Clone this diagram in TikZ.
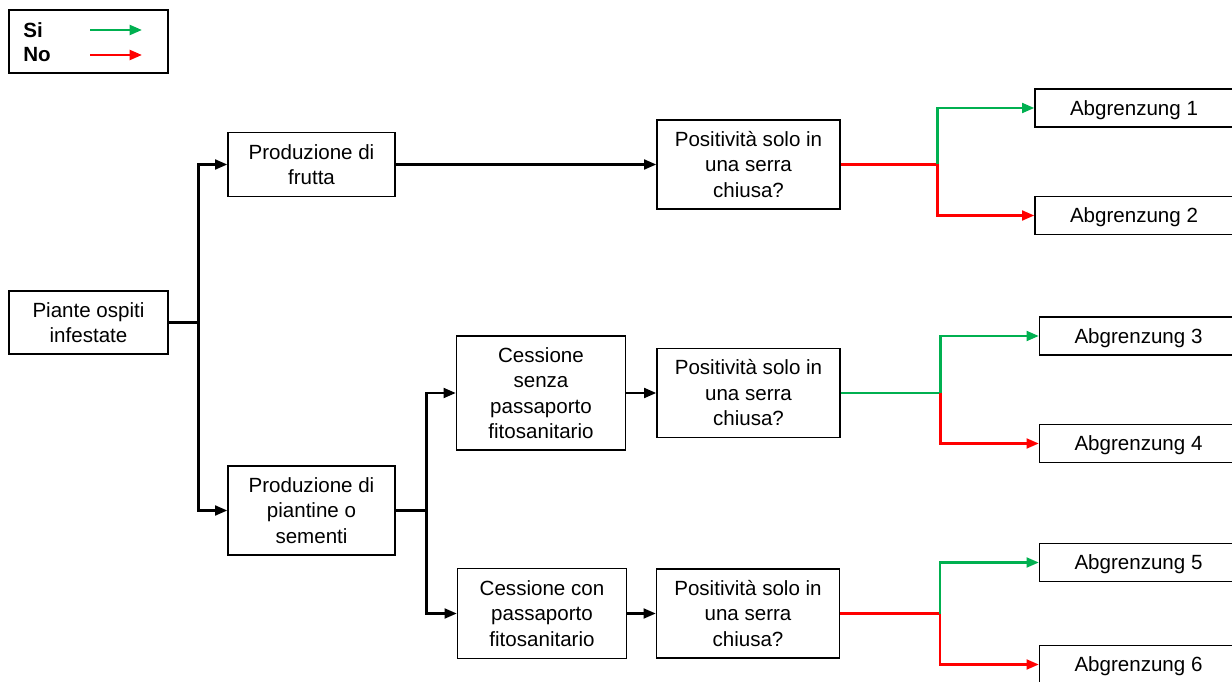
\documentclass[tikz,border=0pt]{standalone}
\usepackage{fontspec}
\setmainfont{Liberation Sans}
\usetikzlibrary{arrows.meta}
\definecolor{sigreen}{RGB}{0,176,80}

\begin{document}
\begin{tikzpicture}[x=0.02cm,y=-0.02cm,
  txt/.style={font=\fontsize{11.7}{14.5}\selectfont},
  leg/.style={font=\bfseries\fontsize{11.7}{14.5}\selectfont,anchor=west,inner sep=0pt},
  box/.style={txt,draw,line width=0.8pt,align=center,inner sep=0pt},
  abox/.style={box,text depth=0pt,minimum width=3.96cm,minimum height=0.76cm},
  qbox/.style={box,minimum width=3.66cm,minimum height=1.78cm},
  arr/.style={line width=1.4pt,-{Triangle[length=7pt,width=5.6pt]}},
  si/.style={arr,sigreen},
  no/.style={arr,red}]
\useasboundingbox (0,0) rectangle (1232,682);
\draw[line width=0.8pt] (9,10) rectangle (168,73);
\node[leg] (si) at (23,30) {Si};
\node[leg] (no) at (23,55) {No};
\coordinate (s1) at (90,30);
\coordinate (s2) at (142,30);
\coordinate (n1) at (90,55);
\coordinate (n2) at (142,55);
\draw[si] (s1) -- (s2);
\draw[no] (n1) -- (n2);
\node[box,minimum width=3.18cm,minimum height=1.26cm] (piante) at (88.5,322.5) {Piante ospiti\\infestate};
\node[box,minimum width=3.34cm,minimum height=1.28cm] (frutta) at (311.5,164.5) {Produzione di\\frutta};
\node[box,minimum width=3.34cm,minimum height=1.78cm] (piantine) at (311.5,510.5) {Produzione di\\piantine o\\sementi};
\node[box,minimum width=3.38cm,minimum height=2.28cm] (senza) at (541,393) {Cessione\\senza\\passaporto\\fitosanitario};
\node[box,minimum width=3.38cm,minimum height=1.8cm] (con) at (542,613.5) {Cessione con\\passaporto\\fitosanitario};
\node[qbox] (pos1) at (748.5,164.5) {Positività solo in\\una serra\\chiusa?};
\node[qbox] (pos2) at (748.5,393) {Positività solo in\\una serra\\chiusa?};
\node[qbox] (pos3) at (748,613.5) {Positività solo in\\una serra\\chiusa?};
\node[abox] (ab1) at (1134,108) {Abgrenzung 1};
\node[abox] (ab2) at (1134,215.5) {Abgrenzung 2};
\node[abox] (ab3) at (1138.5,336) {Abgrenzung 3};
\node[abox] (ab4) at (1138.5,443.5) {Abgrenzung 4};
\node[abox] (ab5) at (1138.5,562.5) {Abgrenzung 5};
\node[abox] (ab6) at (1138.5,664.5) {Abgrenzung 6};
\draw[arr] (piante.east) -- ++(30,0) |- (frutta.west);
\draw[arr] (piante.east) -- ++(30,0) |- (piantine.west);
\draw[arr] (frutta.east) -- (pos1.west);
\draw[arr] (piantine.east) -- ++(31,0) |- (senza.west);
\draw[arr] (piantine.east) -- ++(31,0) |- (con.west);
\draw[arr] (senza.east) -- (pos2.west);
\draw[arr] (con.east) -- (pos3.west);
\draw[no] (pos1.east) -- ++(97,0) |- (ab2.west);
\draw[si] (pos1.east) ++(97,0) |- (ab1.west);
\draw[si] (pos2.east) -- ++(100,0) |- (ab3.west);
\draw[no] (pos2.east) ++(100,0) |- (ab4.west);
\draw[no] (pos3.east) -- ++(100,0) |- (ab6.west);
\draw[si] (pos3.east) ++(100,0) |- (ab5.west);
\end{tikzpicture}
\end{document}
